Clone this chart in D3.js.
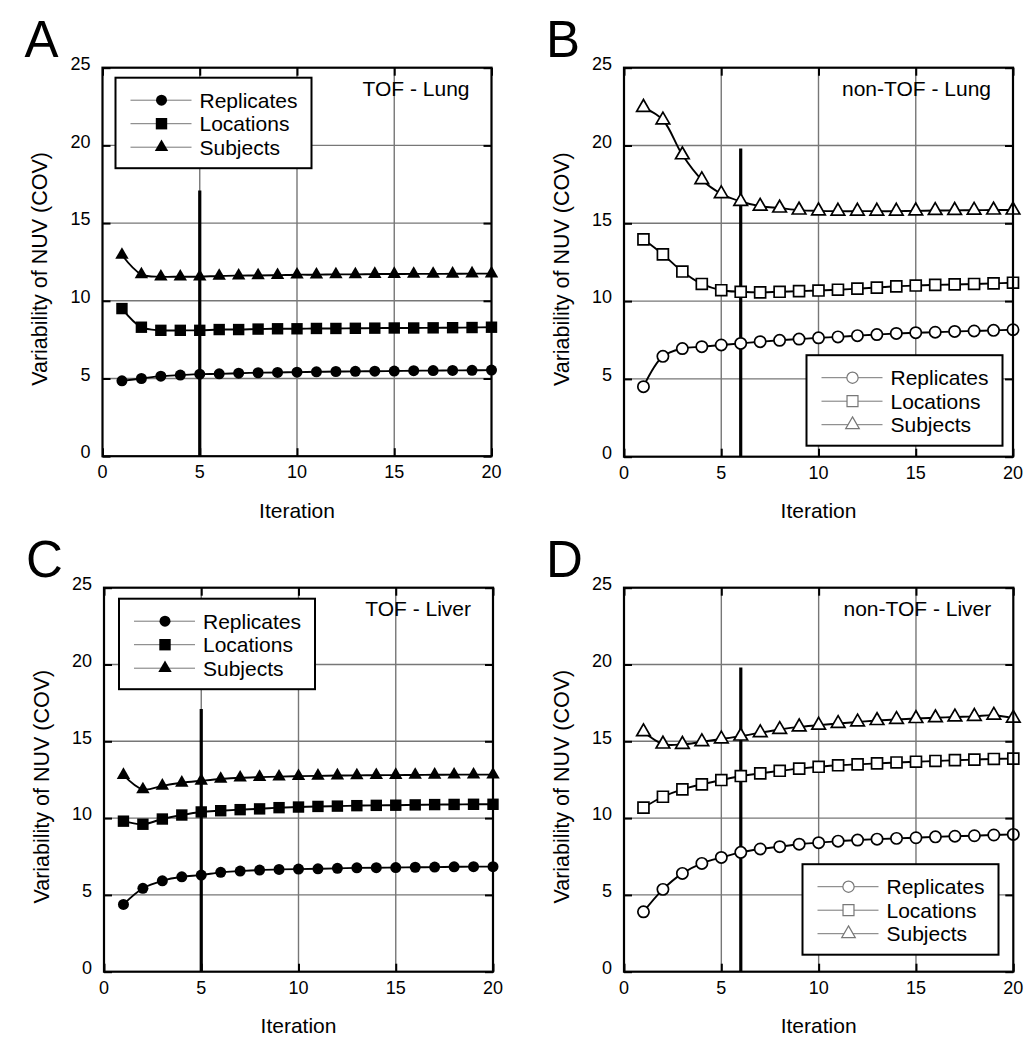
<!DOCTYPE html>
<html>
  <head>
    <meta charset="utf-8">
    <title>Variability of NUV vs iteration</title>
    <script src="https://d3js.org/d3.v7.min.js"></script>
    <style>
      body { margin: 0; background: #fff; font-family: "Liberation Sans", Arial, sans-serif; }
    </style>
  </head>
  <body>
    <div id="chart"></div>
    <script>
      // iterations and axis ticks
      var iterations = [1, 2, 3, 4, 5, 6, 7, 8, 9, 10, 11, 12, 13, 14, 15, 16, 17, 18, 19, 20];
      var xTicks = [0, 5, 10, 15, 20];
      var yTicks = [0, 5, 10, 15, 20, 25];
      var seriesNames = ["Replicates", "Locations", "Subjects"];

      // A: TOF - Lung
      var aReplicates = [4.85, 5.0, 5.15, 5.22, 5.28, 5.3, 5.34, 5.37, 5.39, 5.41, 5.43, 5.45, 5.46, 5.47, 5.48, 5.5, 5.51, 5.52, 5.53, 5.54];
      var aLocations = [9.5, 8.3, 8.1, 8.1, 8.1, 8.15, 8.15, 8.18, 8.2, 8.2, 8.22, 8.22, 8.23, 8.24, 8.25, 8.25, 8.26, 8.27, 8.28, 8.3];
      var aSubjects = [12.95, 11.7, 11.55, 11.55, 11.55, 11.6, 11.62, 11.63, 11.65, 11.68, 11.68, 11.7, 11.7, 11.72, 11.72, 11.73, 11.73, 11.74, 11.75, 11.75];
      // B: non-TOF - Lung
      var bReplicates = [4.5, 6.45, 6.95, 7.07, 7.18, 7.28, 7.39, 7.48, 7.56, 7.64, 7.7, 7.78, 7.85, 7.92, 7.97, 8.0, 8.05, 8.08, 8.12, 8.16];
      var bLocations = [13.97, 13.0, 11.9, 11.1, 10.7, 10.6, 10.56, 10.6, 10.64, 10.68, 10.73, 10.8, 10.87, 10.95, 11.0, 11.04, 11.07, 11.1, 11.14, 11.18];
      var bSubjects = [22.45, 21.64, 19.4, 17.8, 16.9, 16.4, 16.1, 15.98, 15.85, 15.8, 15.78, 15.78, 15.78, 15.78, 15.8, 15.82, 15.83, 15.84, 15.85, 15.85];
      // C: TOF - Liver
      var cReplicates = [4.38, 5.43, 5.92, 6.18, 6.29, 6.47, 6.55, 6.62, 6.66, 6.68, 6.7, 6.73, 6.76, 6.77, 6.78, 6.8, 6.81, 6.83, 6.84, 6.84];
      var cLocations = [9.8, 9.6, 9.94, 10.2, 10.4, 10.48, 10.55, 10.6, 10.68, 10.72, 10.76, 10.78, 10.81, 10.83, 10.84, 10.86, 10.88, 10.89, 10.9, 10.9];
      var cSubjects = [12.8, 11.87, 12.1, 12.3, 12.43, 12.55, 12.63, 12.67, 12.7, 12.73, 12.75, 12.77, 12.78, 12.79, 12.8, 12.81, 12.82, 12.83, 12.83, 12.83];
      // D: non-TOF - Liver
      var dReplicates = [3.9, 5.36, 6.4, 7.05, 7.44, 7.77, 7.99, 8.14, 8.3, 8.4, 8.5, 8.57, 8.63, 8.68, 8.72, 8.78, 8.82, 8.85, 8.9, 8.94];
      var dLocations = [10.68, 11.39, 11.87, 12.2, 12.48, 12.74, 12.91, 13.08, 13.22, 13.34, 13.44, 13.5, 13.56, 13.62, 13.67, 13.72, 13.77, 13.81, 13.85, 13.87];
      var dSubjects = [15.62, 14.82, 14.8, 14.97, 15.15, 15.34, 15.56, 15.77, 15.94, 16.05, 16.16, 16.26, 16.35, 16.42, 16.48, 16.53, 16.58, 16.62, 16.7, 16.5];

      var panelLetters = ["A", "B", "C", "D"];
      var panelTitles = ["TOF - Lung", "non-TOF - Lung", "TOF - Liver", "non-TOF - Liver"];
      var cutoffIteration = [5, 6, 5, 6];
      var cutoffTop = [17.1, 19.8, 17.1, 19.8];

      var panels = [
        { letter: panelLetters[0], title: panelTitles[0], series: [aReplicates, aLocations, aSubjects], filled: true,
          left: 102.5, top: 67.7, width: 389, height: 388.5, legend: { x: 13, y: 10 }, cut: 0 },
        { letter: panelLetters[1], title: panelTitles[1], series: [bReplicates, bLocations, bSubjects], filled: false,
          left: 624, top: 67.7, width: 389, height: 389, legend: { x: 182.5, y: 287.5 }, cut: 1 },
        { letter: panelLetters[2], title: panelTitles[2], series: [cReplicates, cLocations, cSubjects], filled: true,
          left: 104, top: 587.7, width: 389, height: 384, legend: { x: 15, y: 11 }, cut: 2 },
        { letter: panelLetters[3], title: panelTitles[3], series: [dReplicates, dLocations, dSubjects], filled: false,
          left: 624, top: 587.7, width: 389.3, height: 384, legend: { x: 178.5, y: 276.5 }, cut: 3 }
      ];

      var svg = d3.select("#chart").append("svg")
        .attr("width", 1025)
        .attr("height", 1050);

      var font = "Liberation Sans, Arial, sans-serif";

      function markerPath(i, open) {
        var types = [d3.symbolCircle, d3.symbolSquare, d3.symbolTriangle];
        var sizes = open ? [100, 120, 80] : [95, 130, 78];
        return d3.symbol().type(types[i]).size(sizes[i])();
      }

      panels.forEach(function(p) {
        var x = d3.scaleLinear().domain([0, 20]).range([0, p.width]);
        var y = d3.scaleLinear().domain([0, 25]).range([p.height, 0]);

        var g = svg.append("g").attr("transform", "translate(" + p.left + "," + p.top + ")");

        // panel letter
        g.append("text")
          .attr("x", -78)
          .attr("y", -11)
          .style("font-family", font)
          .style("font-size", "51px")
          .text(p.letter);

        // grid lines
        g.append("g").selectAll("line")
          .data(xTicks.slice(1, -1))
          .enter().append("line")
            .attr("x1", function(d) { return x(d); })
            .attr("x2", function(d) { return x(d); })
            .attr("y1", 0).attr("y2", p.height)
            .style("stroke", "#777").style("stroke-width", 1.4);
        g.append("g").selectAll("line")
          .data(yTicks.slice(1, -1))
          .enter().append("line")
            .attr("y1", function(d) { return y(d); })
            .attr("y2", function(d) { return y(d); })
            .attr("x1", 0).attr("x2", p.width)
            .style("stroke", "#777").style("stroke-width", 1.4);

        // inner ticks on all four sides
        var tickLen = 8;
        var axL = d3.axisRight(y).tickValues(yTicks).tickSize(tickLen).tickFormat("");
        var axR = d3.axisLeft(y).tickValues(yTicks).tickSize(tickLen).tickFormat("");
        var axT = d3.axisBottom(x).tickValues(xTicks).tickSize(tickLen).tickFormat("");
        var axB = d3.axisTop(x).tickValues(xTicks).tickSize(tickLen).tickFormat("");
        [[axL, 0, 0], [axR, p.width, 0], [axT, 0, 0], [axB, 0, p.height]].forEach(function(a) {
          var ag = g.append("g").attr("transform", "translate(" + a[1] + "," + a[2] + ")").call(a[0]);
          ag.select(".domain").remove();
          ag.selectAll("line").style("stroke", "#000").style("stroke-width", 2);
        });

        // tick labels
        g.append("g").selectAll("text")
          .data(yTicks)
          .enter().append("text")
            .attr("x", -12)
            .attr("y", function(d) { return y(d) - 4; })
            .attr("dy", "0.35em")
            .attr("text-anchor", "end")
            .style("font-family", font).style("font-size", "18px")
            .text(function(d) { return d; });
        g.append("g").selectAll("text")
          .data(xTicks)
          .enter().append("text")
            .attr("x", function(d) { return x(d); })
            .attr("y", p.height + 16)
            .attr("dy", "0.35em")
            .attr("text-anchor", "middle")
            .style("font-family", font).style("font-size", "18px")
            .text(function(d) { return d; });

        // axis titles
        g.append("text")
          .attr("x", p.width / 2)
          .attr("y", p.height + 54)
          .attr("dy", "0.35em")
          .attr("text-anchor", "middle")
          .style("font-family", font).style("font-size", "21px")
          .text("Iteration");
        g.append("text")
          .attr("transform", "translate(-63," + (p.height / 2 + 7) + ") rotate(-90)")
          .attr("dy", "0.35em")
          .attr("text-anchor", "middle")
          .style("font-family", font).style("font-size", "21.5px")
          .text("Variability of NUV (COV)");

        // cut-off iteration marker
        var ci = cutoffIteration[p.cut];
        g.append("line")
          .attr("x1", x(ci)).attr("x2", x(ci))
          .attr("y1", y(0)).attr("y2", y(cutoffTop[p.cut]))
          .style("stroke", "#000").style("stroke-width", 3.2);

        // series lines and markers
        var line = d3.line()
          .x(function(d) { return x(d[0]); })
          .y(function(d) { return y(d[1]); })
          .curve(d3.curveCatmullRom.alpha(0.5));

        p.series.forEach(function(vals, si) {
          var pts = iterations.map(function(it, k) { return [it, vals[k]]; });
          g.append("path")
            .datum(pts)
            .attr("d", line)
            .style("fill", "none")
            .style("stroke", "#000")
            .style("stroke-width", 1.9);
          g.append("g").selectAll("path")
            .data(pts)
            .enter().append("path")
              .attr("transform", function(d) { return "translate(" + x(d[0]) + "," + y(d[1]) + ")"; })
              .attr("d", markerPath(si, !p.filled))
              .style("fill", p.filled ? "#000" : "#fff")
              .style("stroke", "#000")
              .style("stroke-width", p.filled ? 0 : 1.7);
        });

        // plot frame
        g.append("rect")
          .attr("width", p.width).attr("height", p.height)
          .style("fill", "none").style("stroke", "#000").style("stroke-width", 2.2);

        // panel title
        g.append("text")
          .attr("x", p.width - 22)
          .attr("y", 21)
          .attr("dy", "0.35em")
          .attr("text-anchor", "end")
          .style("font-family", font).style("font-size", "21px")
          .text(p.title);

        // legend
        var lg = g.append("g").attr("transform", "translate(" + p.legend.x + "," + p.legend.y + ")");
        lg.append("rect")
          .attr("width", 196).attr("height", 90.5)
          .style("fill", "#fff").style("stroke", "#000").style("stroke-width", 2);
        seriesNames.forEach(function(name, si) {
          var ry = 22.5 + si * 23.5;
          lg.append("line")
            .attr("x1", 15).attr("x2", 76)
            .attr("y1", ry).attr("y2", ry)
            .style("stroke", "#777").style("stroke-width", 1);
          lg.append("path")
            .attr("transform", "translate(46," + ry + ")")
            .attr("d", markerPath(si, !p.filled))
            .style("fill", p.filled ? "#000" : "#fff")
            .style("stroke", p.filled ? "none" : "#777")
            .style("stroke-width", 1.2);
          lg.append("text")
            .attr("x", 84)
            .attr("y", ry)
            .attr("dy", "0.35em")
            .style("font-family", font).style("font-size", "21px")
            .text(name);
        });
      });
    </script>
  </body>
</html>
